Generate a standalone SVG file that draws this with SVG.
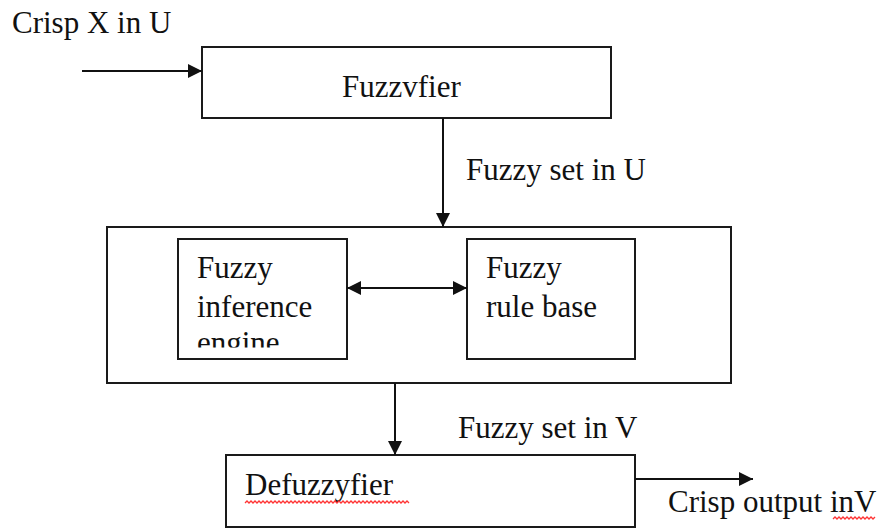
<svg xmlns="http://www.w3.org/2000/svg" width="882" height="529" viewBox="0 0 882 529">
  <style>
    .box { fill: #ffffff; stroke: #1a1a1a; stroke-width: 2; }
    .lbl { font-family: "Liberation Serif", "Times New Roman", serif; font-size: 31px; fill: #111111; }
    .conn { stroke: #111111; stroke-width: 2; fill: none; }
    .wavy { stroke: #ff3333; stroke-width: 1.3; fill: none; }
  </style>
  <defs>
    <marker id="arrow" viewBox="0 0 14 14" refX="14" refY="7" markerWidth="14" markerHeight="14" markerUnits="userSpaceOnUse" orient="auto-start-reverse">
      <path d="M0,0 L14,7 L0,14 Z" fill="#111111"/>
    </marker>
    <clipPath id="engineClip">
      <rect x="180" y="320" width="165" height="27.5"/>
    </clipPath>
  </defs>
  <rect width="882" height="529" fill="#ffffff"/>

  <text class="lbl" x="12" y="33">Crisp X in U</text>

  <g id="fuzzyfier">
    <rect class="box" x="202" y="47" width="409" height="71"/>
    <text class="lbl" x="342" y="97">Fuzzvfier</text>
  </g>

  <text class="lbl" x="466" y="180">Fuzzy set in U</text>

  <g id="inference-system">
    <rect class="box" x="107" y="227" width="624" height="156"/>
  </g>

  <g id="inference-engine">
    <rect class="box" x="178" y="239" width="169" height="120"/>
    <text class="lbl" x="197" y="278">Fuzzy</text>
    <text class="lbl" x="197" y="317">inference</text>
    <text class="lbl" x="197" y="353" clip-path="url(#engineClip)">engine</text>
  </g>

  <g id="rule-base">
    <rect class="box" x="467" y="239" width="168" height="120"/>
    <text class="lbl" x="486" y="278">Fuzzy</text>
    <text class="lbl" x="486" y="317">rule base</text>
  </g>

  <text class="lbl" x="458" y="438">Fuzzy set in V</text>

  <g id="defuzzyfier">
    <rect class="box" x="226" y="455" width="409" height="72"/>
    <text class="lbl" x="245" y="495">Defuzzyfier</text>
    <path class="wavy" d="M245,503 l2,-2 l2,2 l2,-2 l2,2 l2,-2 l2,2 l2,-2 l2,2 l2,-2 l2,2 l2,-2 l2,2 l2,-2 l2,2 l2,-2 l2,2 l2,-2 l2,2 l2,-2 l2,2 l2,-2 l2,2 l2,-2 l2,2 l2,-2 l2,2 l2,-2 l2,2 l2,-2 l2,2 l2,-2 l2,2 l2,-2 l2,2 l2,-2 l2,2 l2,-2 l2,2 l2,-2 l2,2 l2,-2 l2,2 l2,-2 l2,2 l2,-2 l2,2 l2,-2 l2,2 l2,-2 l2,2 l2,-2 l2,2 l2,-2 l2,2 l2,-2 l2,2 l2,-2 l2,2 l2,-2 l2,2 l2,-2 l2,2 l2,-2 l2,2 l2,-2 l2,2 l2,-2 l2,2 l2,-2 l2,2 l2,-2 l2,2 l2,-2 l2,2 l2,-2 l2,2 l2,-2 l2,2 l2,-2 l2,2 l2,-2 l2,2"/>
  </g>

  <text class="lbl" x="668" y="512">Crisp output inV</text>
  <path class="wavy" d="M833,519 l2,-2 l2,2 l2,-2 l2,2 l2,-2 l2,2 l2,-2 l2,2 l2,-2 l2,2 l2,-2 l2,2 l2,-2 l2,2 l2,-2 l2,2 l2,-2 l2,2 l2,-2 l2,2 l2,-2"/>

  <g id="connectors">
    <line class="conn" x1="82" y1="71" x2="202" y2="71" marker-end="url(#arrow)"/>
    <line class="conn" x1="443" y1="118" x2="443" y2="227" marker-end="url(#arrow)"/>
    <line class="conn" x1="347" y1="288" x2="467" y2="288" marker-start="url(#arrow)" marker-end="url(#arrow)"/>
    <line class="conn" x1="395" y1="383" x2="395" y2="455" marker-end="url(#arrow)"/>
    <line class="conn" x1="635" y1="479" x2="753" y2="479" marker-end="url(#arrow)"/>
  </g>
</svg>
